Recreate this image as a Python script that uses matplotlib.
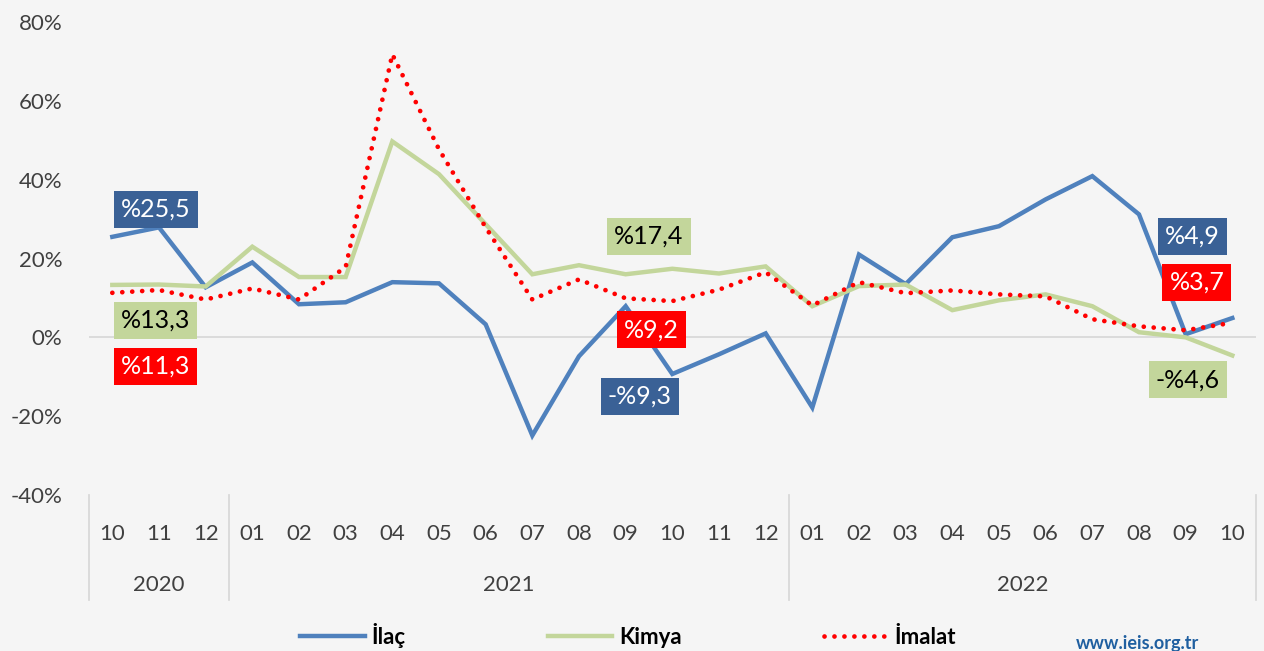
import matplotlib.pyplot as plt
from matplotlib.transforms import blended_transform_factory

plt.rcParams['font.family'] = ['Lato', 'DejaVu Sans']

months = ['10', '11', '12',
          '01', '02', '03', '04', '05', '06', '07', '08', '09', '10', '11', '12',
          '01', '02', '03', '04', '05', '06', '07', '08', '09', '10']
years = ['2020', '2021', '2022']
year_counts = [3, 12, 10]

ilac = [25.5, 27.9, 12.7, 19.0, 8.4, 8.9, 14.0, 13.7, 3.3, -24.9, -4.8, 7.9, -9.3,
        -4.3, 1.0, -17.8, 21.0, 13.5, 25.4, 28.2, 35.0, 40.9, 31.2, 0.8, 4.9]
kimya = [13.3, 13.4, 12.9, 23.0, 15.3, 15.3, 49.7, 41.4, 28.7, 16.0, 18.3, 16.0, 17.4,
         16.2, 18.0, 7.9, 13.0, 13.4, 6.9, 9.4, 10.9, 7.9, 1.3, 0.0, -4.6]
imalat = [11.3, 12.0, 9.6, 12.4, 9.6, 17.8, 71.8, 47.7, 27.9, 9.6, 14.7, 9.9, 9.2,
          12.1, 16.5, 8.1, 14.0, 11.2, 11.9, 10.9, 10.4, 4.6, 2.8, 1.8, 3.7]

# (series, index, label, x offset, y position)
labels = [
    ('ilac', 0, '%25,5', 0.93, 32.5),
    ('kimya', 0, '%13,3', 0.93, 4.3),
    ('imalat', 0, '%11,3', 0.93, -7.4),
    ('kimya', 12, '%17,4', -0.5, 25.6),
    ('imalat', 12, '%9,2', -0.44, 1.9),
    ('ilac', 12, '-%9,3', -0.7, -15.0),
    ('ilac', 24, '%4,9', -0.85, 25.7),
    ('imalat', 24, '%3,7', -0.76, 14.0),
    ('kimya', 24, '-%4,6', -0.95, -10.8),
]

c_blue = '#4f81bd'
c_green = '#c3d69b'
c_red = '#ff0000'
box_colors = {'ilac': '#3a6196', 'kimya': '#c3d69b', 'imalat': '#ff0000'}
text_colors = {'ilac': 'white', 'kimya': 'black', 'imalat': 'white'}

bg = '#f5f5f5'
fig = plt.figure(figsize=(12.64, 6.51), dpi=100, facecolor=bg)
ax = fig.add_axes([0.0704, 0.2396, 0.9230, 0.7266], facecolor=bg)

x = list(range(len(months)))
ax.plot(x, ilac, color=c_blue, lw=3.2, label='İlaç', solid_joinstyle='miter')
ax.plot(x, kimya, color=c_green, lw=3.2, label='Kimya', solid_joinstyle='miter')
ax.plot(x, imalat, color=c_red, lw=3.4, linestyle=(0, (0.01, 2.1)),
        dash_capstyle='round', label='İmalat')

ax.axhline(0, color='#d9d9d9', lw=1.3, zorder=0)

ax.set_xlim(-0.5, len(months) - 0.5)
ax.set_ylim(-40, 80)
ax.set_yticks(range(-40, 81, 20))
ax.set_yticklabels([f'{v}%' for v in range(-40, 81, 20)])
ax.set_xticks(x)
ax.set_xticklabels(months)
ax.tick_params(axis='both', length=0, labelsize=16, colors='#404040')
ax.tick_params(axis='x', pad=21)
ax.tick_params(axis='y', pad=19)
for s in ax.spines.values():
    s.set_visible(False)

# year groups and separators
tr = blended_transform_factory(ax.transData, ax.transAxes)
start = -0.5
bounds = [start]
for yr, n in zip(years, year_counts):
    ax.text(start + n / 2, -0.19, yr, transform=tr, ha='center', va='center',
            fontsize=16, color='#404040')
    start += n
    bounds.append(start)
for b in bounds:
    ax.plot([b, b], [0, -0.222], transform=tr, color='#d9d9d9', lw=1.3, clip_on=False)

for name, i, txt, dx, ypos in labels:
    ax.text(i + dx, ypos, txt, ha='center', va='center', fontsize=18,
            color=text_colors[name],
            bbox=dict(boxstyle='square,pad=0.28', fc=box_colors[name], ec='none'))

leg = fig.legend(loc='center', bbox_to_anchor=(0.497, 0.024), ncol=3, frameon=False,
                 handlelength=2.9, columnspacing=6.4, handletextpad=0.3,
                 prop={'size': 16, 'weight': 'bold'})
for t in leg.get_texts():
    t.set_color('black')

fig.text(0.851, 0.012, 'www.ieis.org.tr', ha='left', va='center', fontsize=13,
         color='#1f5fa0', fontweight='bold')

fig.savefig('out.png', dpi=100, facecolor=bg)
